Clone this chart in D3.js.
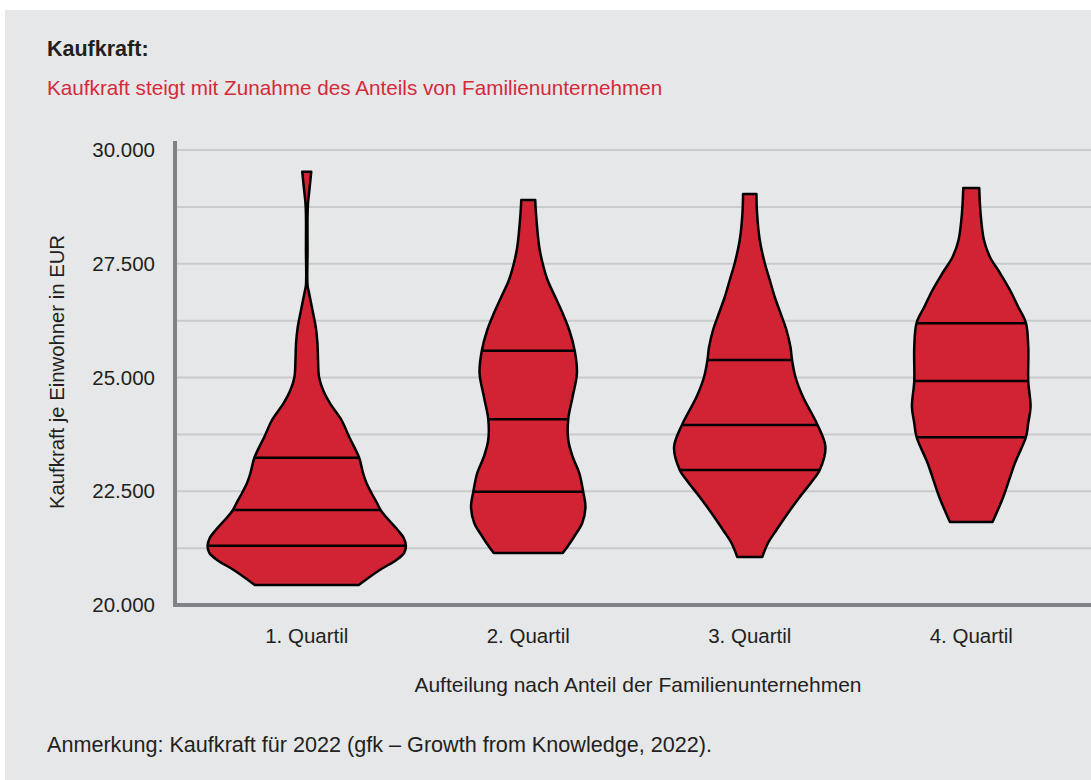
<!DOCTYPE html>
<html><head><meta charset="utf-8">
<script src="https://cdn.jsdelivr.net/npm/d3@7"></script>
<style>
body{margin:0;background:#fff}
text{font-family:"Liberation Sans",Arial,sans-serif}
</style>
</head><body>
<svg id="c" width="1091" height="780"></svg>
<script>
// ---------- data ----------
const categories = ["1. Quartil", "2. Quartil", "3. Quartil", "4. Quartil"];
const yTickValues = [20000, 22500, 25000, 27500, 30000];

// violin outlines: value levels (EUR) and relative half-widths (density)
const q1Values = [29523, 29193, 28835, 28571, 27802, 27033, 26857, 26484, 26110, 25758, 25385, 25011, 24725, 24440, 24066, 23692, 23231, 22901, 22681, 22462, 22264, 22066, 21868, 21648, 21473, 21297, 21143, 20989, 20769, 20440];
const q1Widths = [0.045, 0.03, 0.013, 0.008, 0.008, 0.008, 0.023, 0.057, 0.09, 0.107, 0.113, 0.123, 0.163, 0.23, 0.347, 0.425, 0.525, 0.563, 0.597, 0.647, 0.697, 0.745, 0.82, 0.91, 0.97, 0.992, 0.973, 0.897, 0.73, 0.52];

const q2Values = [28901, 28615, 27868, 27516, 27143, 26769, 26418, 26044, 25582, 25099, 24571, 24088, 23626, 23253, 22901, 22484, 22154, 21802, 21495, 21275, 21143];
const q2Widths = [0.07, 0.077, 0.11, 0.143, 0.193, 0.27, 0.343, 0.41, 0.465, 0.487, 0.443, 0.40, 0.40, 0.445, 0.51, 0.55, 0.572, 0.54, 0.457, 0.39, 0.345];

const q3Values = [29033, 28615, 28022, 27516, 27143, 26769, 26418, 26044, 25670, 25385, 25011, 24571, 24220, 23956, 23473, 22967, 22747, 22374, 22022, 21648, 21363, 21055];
const q3Widths = [0.067, 0.073, 0.10, 0.15, 0.20, 0.25, 0.307, 0.367, 0.407, 0.423, 0.457, 0.533, 0.617, 0.678, 0.757, 0.70, 0.633, 0.50, 0.383, 0.267, 0.183, 0.125];

const q4Values = [29165, 28615, 28022, 27648, 27297, 26923, 26549, 26198, 25670, 24923, 24352, 24000, 23692, 23121, 22374, 21824];
const q4Widths = [0.08, 0.093, 0.127, 0.187, 0.287, 0.387, 0.47, 0.547, 0.57, 0.57, 0.593, 0.57, 0.547, 0.437, 0.32, 0.213];

// quartile lines (25%, median, 75%)
const quartileLines = [
  [21303, 22088, 23238],
  [22491, 24081, 25590],
  [22967, 23956, 25385],
  [23685, 24923, 26190]
];

const allValues = [q1Values, q2Values, q3Values, q4Values];
const allWidths = [q1Widths, q2Widths, q3Widths, q4Widths];

// ---------- layout ----------
const svg = d3.select("#c");
const W = 1091, H = 780;
const bg = "#e6e7e8", red = "#d12333", ink = "#231f20", axisGray = "#808285", gridGray = "#c9cacc";

svg.append("rect").attr("x", 0).attr("y", 0).attr("width", W).attr("height", H).attr("fill", "#fff");
svg.append("rect").attr("x", 5).attr("y", 10).attr("width", W - 5).attr("height", H - 10).attr("fill", bg);

const y = d3.scaleLinear().domain([20000, 30000]).range([605, 150]);
const x = d3.scaleBand().domain(categories).range([196, 1082]).paddingInner(0).paddingOuter(0);
const wScale = d3.scaleLinear().domain([0, 1]).range([0, 100]);

const de = d3.formatLocale({decimal: ",", thousands: ".", grouping: [3], currency: ["", " €"]});
const fmt = de.format(",.0f");

// gridlines
svg.append("g").selectAll("line")
  .data(d3.range(20000, 30001, 1250))
  .join("line")
  .attr("x1", 175).attr("x2", W)
  .attr("y1", d => y(d)).attr("y2", d => y(d))
  .attr("stroke", gridGray).attr("stroke-width", 2);

// y axis labels
const yAxis = svg.append("g").attr("transform", "translate(175,0)")
  .call(d3.axisLeft(y).tickValues(yTickValues).tickFormat(fmt).tickSize(0).tickPadding(20));
yAxis.select(".domain").remove();
yAxis.selectAll("text").attr("font-size", 20.5).attr("fill", ink)
  .style("font-family", '"Liberation Sans", Arial, sans-serif');

// violins
const defs = svg.append("defs");
const area = d3.area()
  .curve(d3.curveCatmullRom.alpha(0.5))
  .y(d => y(d.v));

categories.forEach((cat, i) => {
  const cx = x(cat) + x.bandwidth() / 2;
  const pts = allValues[i].map((v, k) => ({v, w: allWidths[i][k]}));
  const a = area.x0(d => cx - wScale(d.w)).x1(d => cx + wScale(d.w));
  const pathD = a(pts);
  defs.append("clipPath").attr("id", "clip" + i).append("path").attr("d", pathD);
  const g = svg.append("g");
  g.append("path").attr("d", pathD).attr("fill", red);
  g.append("g").attr("clip-path", `url(#clip${i})`)
    .selectAll("line").data(quartileLines[i]).join("line")
    .attr("x1", cx - 130).attr("x2", cx + 130)
    .attr("y1", d => y(d)).attr("y2", d => y(d))
    .attr("stroke", "#000").attr("stroke-width", 2.5);
  g.append("path").attr("d", pathD).attr("fill", "none")
    .attr("stroke", "#000").attr("stroke-width", 2.5).attr("stroke-linejoin", "round");
});

// axis lines
svg.append("line").attr("x1", 175).attr("x2", 175).attr("y1", 141).attr("y2", 607)
  .attr("stroke", axisGray).attr("stroke-width", 4);
svg.append("line").attr("x1", 173).attr("x2", W).attr("y1", 605).attr("y2", 605)
  .attr("stroke", axisGray).attr("stroke-width", 4);

// x labels
const xAxis = svg.append("g").attr("transform", "translate(0,605)")
  .call(d3.axisBottom(x).tickSize(0).tickPadding(23));
xAxis.select(".domain").remove();
xAxis.selectAll("text").attr("font-size", 20.5).attr("fill", ink)
  .style("font-family", '"Liberation Sans", Arial, sans-serif');

// titles
svg.append("text").attr("x", 47).attr("y", 56).attr("font-size", 21.5).attr("font-weight", "bold")
  .attr("fill", ink).text("Kaufkraft:");
svg.append("text").attr("x", 47).attr("y", 95).attr("font-size", 20.7)
  .attr("fill", "#d42a3a").text("Kaufkraft steigt mit Zunahme des Anteils von Familienunternehmen");
svg.append("text").attr("transform", "translate(64,372) rotate(-90)").attr("text-anchor", "middle")
  .attr("font-size", 20.3).attr("fill", ink).text("Kaufkraft je Einwohner in EUR");
svg.append("text").attr("x", 638).attr("y", 692).attr("text-anchor", "middle")
  .attr("font-size", 21).attr("fill", ink).text("Aufteilung nach Anteil der Familienunternehmen");
svg.append("text").attr("x", 47).attr("y", 752).attr("font-size", 21.6)
  .attr("fill", ink).text("Anmerkung: Kaufkraft für 2022 (gfk – Growth from Knowledge, 2022).");
</script>
</body></html>
